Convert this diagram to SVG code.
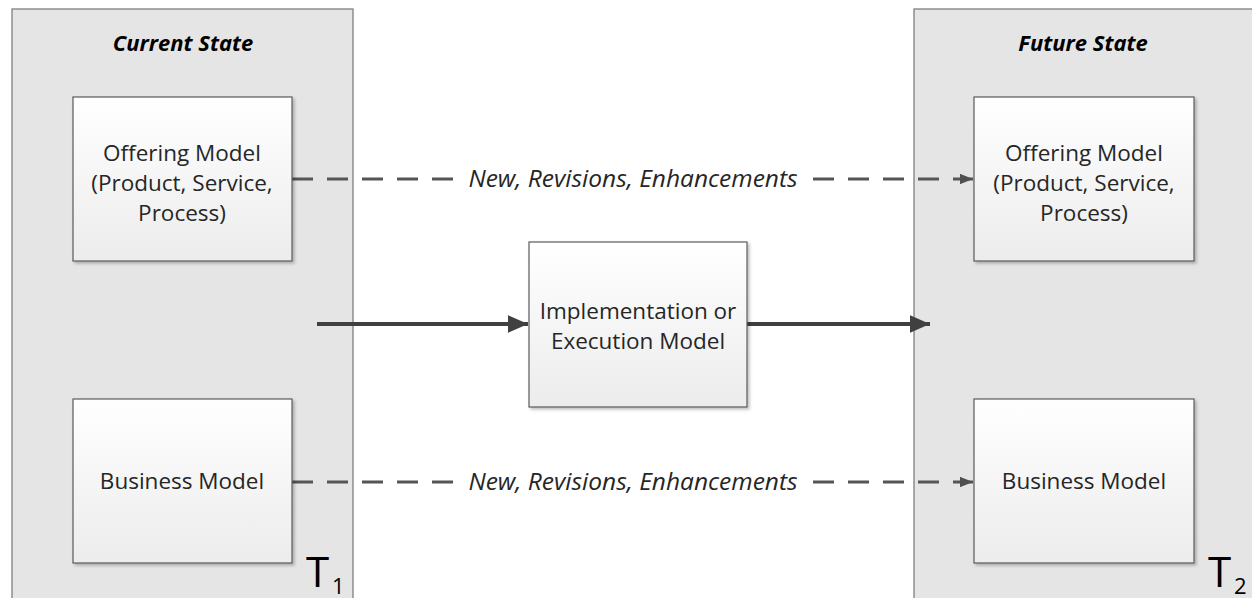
<svg xmlns="http://www.w3.org/2000/svg" width="1252" height="598" viewBox="0 0 1252 598">
<defs>
<linearGradient id="boxg" x1="0" y1="0" x2="0" y2="1">
<stop offset="0" stop-color="#ffffff"/>
<stop offset="1" stop-color="#ececec"/>
</linearGradient>
<filter id="sh" x="-10%" y="-10%" width="130%" height="130%">
<feDropShadow dx="2" dy="2" stdDeviation="1.5" flood-color="#000" flood-opacity="0.25"/>
</filter>
<marker id="solidHead" markerWidth="5" markerHeight="4.4" refX="5" refY="2.2" orient="auto" markerUnits="strokeWidth">
<path d="M0,0 L5,2.2 L0,4.4 Z" fill="#404040"/>
</marker>
<marker id="dashHead" markerWidth="4.5" markerHeight="3.6" refX="4.5" refY="1.8" orient="auto" markerUnits="strokeWidth">
<path d="M0,0 L4.5,1.8 L0,3.6 Z" fill="#505050"/>
</marker>
</defs>
<style>
.panel{fill:#e5e5e5;stroke:#7f7f7f;stroke-width:1.3}
.box{fill:url(#boxg);stroke:#5a5a5a;stroke-width:1.2;filter:url(#sh)}
.t{font-family:"Open Sans","Liberation Sans",sans-serif;font-size:22.5px;fill:#262626;text-anchor:middle}
.title{font-family:"Open Sans","Liberation Sans",sans-serif;font-size:22px;font-weight:bold;font-style:italic;fill:#000;text-anchor:middle}
.lbl{font-family:"Open Sans","Liberation Sans",sans-serif;font-size:24.5px;font-style:italic;fill:#262626;text-anchor:middle}
.big{font-family:"Open Sans","Liberation Sans",sans-serif;fill:#000}
.solid{stroke:#404040;stroke-width:4;fill:none;marker-end:url(#solidHead)}
.dash{stroke:#555;stroke-width:3;fill:none;stroke-dasharray:21 14}
.dashA{stroke:#555;stroke-width:3;fill:none;stroke-dasharray:21 14;marker-end:url(#dashHead)}
</style>
<rect width="1252" height="598" fill="#fff"/>
<g id="current-state">
<rect class="panel" x="12" y="9" width="341" height="600"/>
<text class="title" x="183" y="51">Current State</text>
<text class="big" x="306" y="587" font-size="42">T</text>
<text class="big" x="332" y="594" font-size="22">1</text>
</g>
<g id="future-state">
<rect class="panel" x="914" y="9" width="350" height="600"/>
<text class="title" x="1083" y="51">Future State</text>
<text class="big" x="1208" y="587" font-size="42">T</text>
<text class="big" x="1234" y="594" font-size="22">2</text>
</g>
<g id="connectors">
<path class="dash" d="M292,179 H455"/>
<path class="dashA" d="M813,179 H973"/>
<text class="lbl" x="633" y="187">New, Revisions, Enhancements</text>
<path class="dash" d="M292,482 H455"/>
<path class="dashA" d="M813,482 H973"/>
<text class="lbl" x="633" y="490">New, Revisions, Enhancements</text>
<path class="solid" d="M317,324 H528"/>
<path class="solid" d="M747,324 H930"/>
</g>
<g id="offering-current">
<rect class="box" x="73" y="97" width="219" height="164"/>
<text class="t" x="182" y="161">Offering Model</text>
<text class="t" x="182" y="191">(Product, Service,</text>
<text class="t" x="182" y="221">Process)</text>
</g>
<g id="business-current">
<rect class="box" x="73" y="399" width="219" height="164"/>
<text class="t" x="182" y="489">Business Model</text>
</g>
<g id="implementation">
<rect class="box" x="529" y="242" width="218" height="165"/>
<text class="t" x="638" y="319">Implementation or</text>
<text class="t" x="638" y="349">Execution Model</text>
</g>
<g id="offering-future">
<rect class="box" x="974" y="97" width="220" height="164"/>
<text class="t" x="1084" y="161">Offering Model</text>
<text class="t" x="1084" y="191">(Product, Service,</text>
<text class="t" x="1084" y="221">Process)</text>
</g>
<g id="business-future">
<rect class="box" x="974" y="399" width="220" height="164"/>
<text class="t" x="1084" y="489">Business Model</text>
</g>
</svg>
